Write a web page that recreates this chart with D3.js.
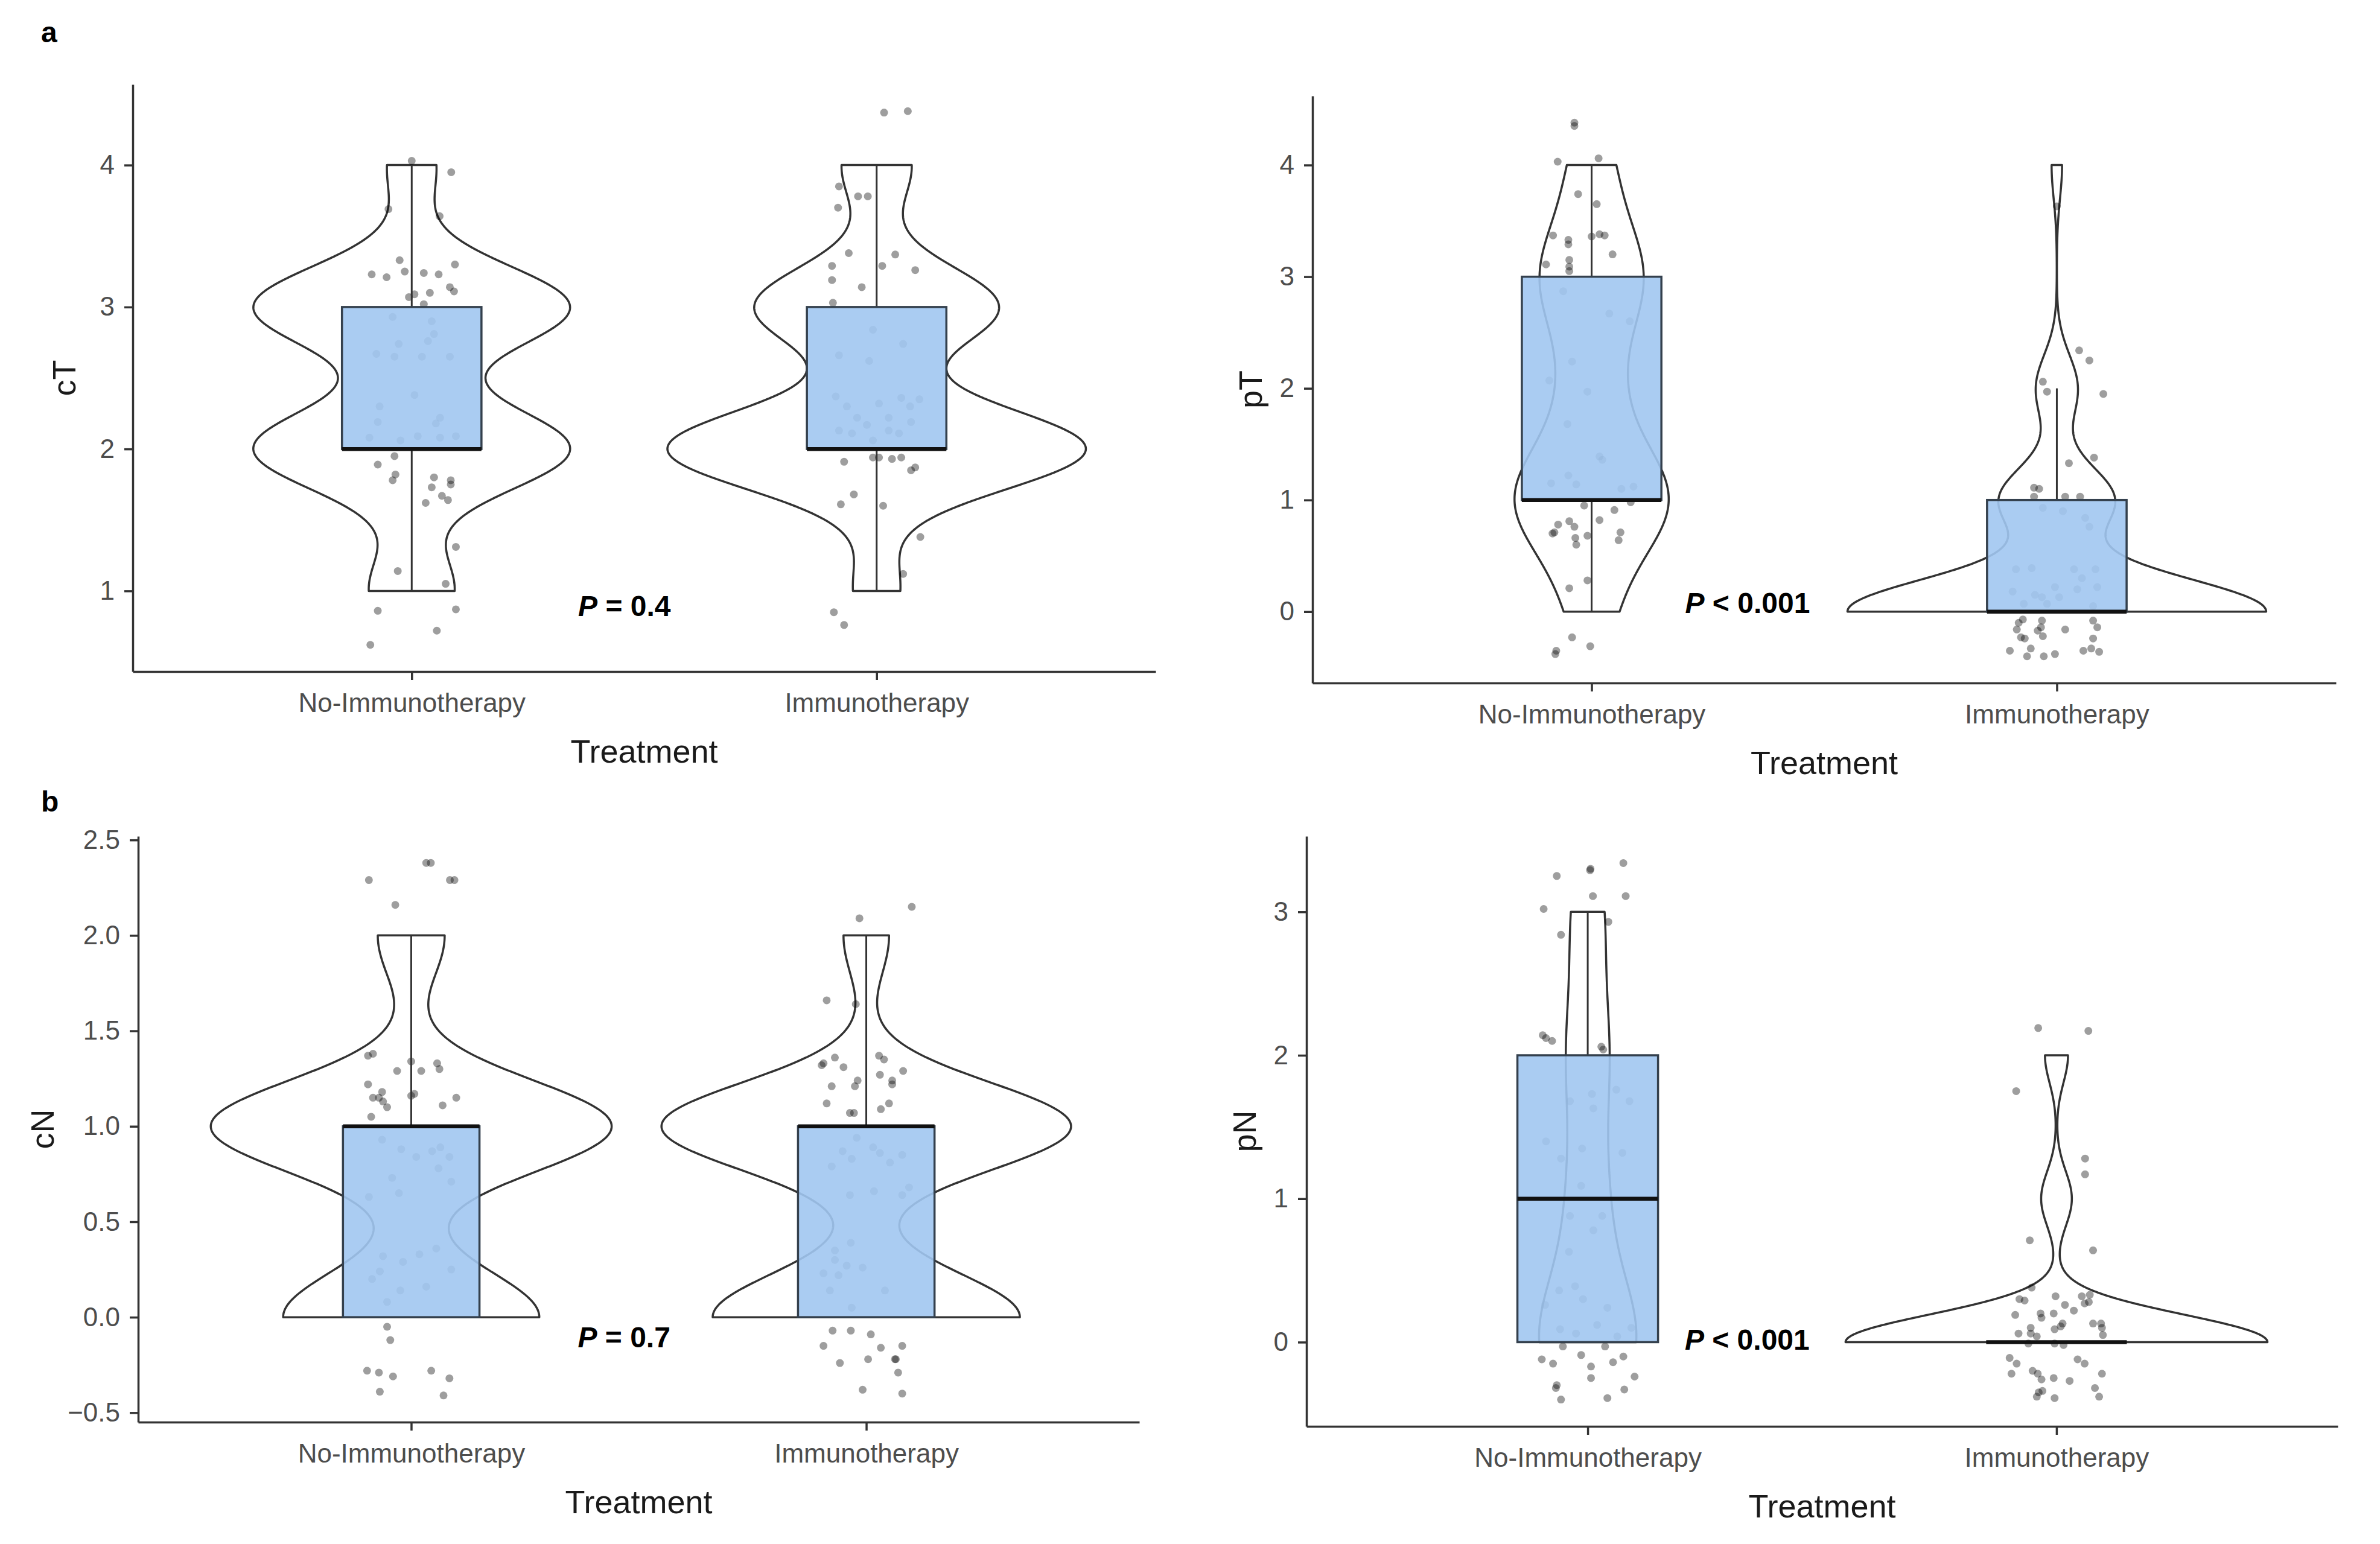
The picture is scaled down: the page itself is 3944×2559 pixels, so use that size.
<!DOCTYPE html>
<html><head><meta charset="utf-8">
<script src="https://cdn.jsdelivr.net/npm/d3@7"></script>
<style>body{margin:0;background:#fff}svg{display:block}</style>
</head><body>
<script>
// ---------------- DATA ----------------
const categories = ["No-Immunotherapy", "Immunotherapy"];

// observation counts per integer stage level (drive violins and boxplots)
const cT_levels = [1, 2, 3, 4];
const cT_counts_noImmuno = [7, 26, 26, 4];
const cT_counts_immuno   = [4, 36, 21, 6];
const pT_levels = [0, 1, 2, 3, 4];
const pT_counts_noImmuno = [6, 23, 7, 15, 6];
const pT_counts_immuno   = [40, 11, 4, 0, 1];
const cN_levels = [0, 1, 2];
const cN_counts_noImmuno = [23, 36, 6];
const cN_counts_immuno   = [27, 36, 4];
const pN_levels = [0, 1, 2, 3];
const pN_counts_noImmuno = [25, 9, 10, 8];
const pN_counts_immuno   = [55, 4, 3, 0];

// jittered points: [horizontal offset in category steps, jittered value]
const cT_points_noImmuno = [[0,4.03],[0.085,3.95],[-0.05,3.69],[0.06,3.64],
[-0.026,3.33],[-0.015,3.25],[-0.086,3.23],[-0.054,3.21],[0.026,3.24],[0.058,3.23],[0.093,3.30],[0.082,3.14],[0.091,3.11],[-0.006,3.07],[0.006,3.09],[0.039,3.10],[0.026,3.02],
[-0.041,2.93],[0.043,2.90],[0.048,2.81],[0.035,2.76],[-0.076,2.67],[-0.028,2.74],[-0.037,2.65],[0.022,2.65],[0.082,2.65],[0.006,2.38],[-0.069,2.30],[-0.073,2.19],[0.052,2.18],[0.061,2.22],[-0.091,2.08],[-0.024,2.06],[0.013,2.09],[0.061,2.08],[0.095,2.09],
[-0.037,1.95],[-0.073,1.89],[-0.035,1.82],[-0.041,1.78],[0.048,1.80],[0.043,1.73],[0.084,1.78],[0.084,1.75],[0.030,1.62],[0.065,1.67],[0.078,1.64],[0.095,1.31],[-0.030,1.14],[0.073,1.05],
[-0.073,0.86],[0.095,0.87],[0.054,0.72],[-0.089,0.62]];
const cT_points_immuno = [[0.016,4.37],[0.067,4.38],[-0.081,3.85],[-0.040,3.78],[-0.019,3.78],[-0.083,3.70],
[-0.060,3.38],[0.040,3.37],[-0.096,3.29],[-0.096,3.19],[0.012,3.29],[0.083,3.26],[-0.032,3.14],[-0.094,3.03],
[-0.008,2.84],[0.057,2.74],[-0.081,2.66],[-0.016,2.62],[-0.088,2.37],[-0.064,2.30],[-0.042,2.22],[0.005,2.32],[0.026,2.22],[0.053,2.36],[0.072,2.30],[0.092,2.35],[-0.081,2.13],[-0.053,2.11],[-0.021,2.17],[0.026,2.13],[0.048,2.11],[0.074,2.19],[-0.008,2.06],
[-0.008,1.94],[0.005,1.94],[0.033,1.93],[0.053,1.94],[0.074,1.85],[0.083,1.87],[-0.070,1.91],[-0.077,1.61],[-0.049,1.68],[0.014,1.60],[0.094,1.38],[0.057,1.12],[-0.092,0.85],[-0.070,0.76]];
const pT_points_noImmuno = [[-0.037,4.38],[-0.037,4.35],[-0.073,4.03],[0.015,4.06],[-0.029,3.74],[0.011,3.65],
[-0.083,3.37],[-0.050,3.33],[-0.050,3.29],[0.0,3.36],[0.017,3.38],[0.028,3.37],[0.045,3.20],[-0.098,3.11],[-0.048,3.15],[-0.048,3.09],[-0.048,3.05],[-0.061,2.87],[0.038,2.67],[0.082,2.60],
[-0.042,2.24],[-0.091,2.07],[-0.009,1.97],[-0.052,1.68],
[0.017,1.39],[0.023,1.36],[-0.087,1.15],[-0.050,1.22],[-0.033,1.14],[0.064,1.10],[0.090,1.12],[-0.016,0.95],[0.049,0.91],[0.084,0.98],[-0.080,0.71],[-0.072,0.78],[-0.048,0.81],[-0.037,0.76],[-0.084,0.70],[-0.035,0.66],[-0.033,0.60],[-0.009,0.68],[0.017,0.82],[0.062,0.71],[0.058,0.64],
[-0.048,0.21],[-0.009,0.28],[-0.076,-0.35],[-0.078,-0.38],[-0.042,-0.23],[-0.003,-0.31]];
const pT_points_immuno = [[0,3.63],
[0.048,2.34],[0.070,2.25],[-0.030,2.06],[-0.021,1.97],[0.100,1.95],
[0.026,1.33],[0.080,1.38],[-0.049,1.11],[-0.038,1.10],[0.018,1.03],[0.050,1.03],[-0.049,1.03],[-0.030,0.93],[0.013,0.90],[0.061,0.84],[0.070,0.76],
[-0.088,0.38],[-0.054,0.39],[0.037,0.38],[0.083,0.38],[0.054,0.30],[-0.095,0.18],[-0.047,0.15],[-0.032,0.13],[-0.004,0.22],[0.005,0.13],[0.044,0.20],[0.087,0.22],[-0.071,0.07],[-0.021,0.07],[0.078,0.05],
[-0.073,-0.07],[-0.032,-0.08],[0.078,-0.08],[-0.086,-0.16],[-0.041,-0.17],[-0.034,-0.14],[0.018,-0.16],[0.087,-0.14],[-0.077,-0.23],[-0.069,-0.24],[-0.030,-0.22],[0.078,-0.24],[-0.101,-0.35],[-0.064,-0.40],[-0.056,-0.33],[-0.028,-0.40],[-0.004,-0.38],[0.057,-0.35],[0.074,-0.33],[0.091,-0.36],[-0.082,-0.10]];
const cN_points_noImmuno = [[-0.093,2.29],[-0.035,2.16],[0.033,2.38],[0.043,2.38],[0.085,2.29],[0.095,2.29],
[-0.095,1.37],[-0.084,1.38],[-0.031,1.29],[0,1.34],[0.022,1.29],[0.057,1.33],[0.062,1.30],[-0.095,1.22],[-0.084,1.15],[-0.071,1.15],[-0.064,1.18],[-0.062,1.13],[-0.053,1.10],[-0.088,1.05],[0,1.16],[0.007,1.17],[0.069,1.11],[0.099,1.15],
[-0.064,0.93],[-0.022,0.88],[0.011,0.84],[0.046,0.87],[0.064,0.89],[0.084,0.84],[0.060,0.78],[0.088,0.71],[-0.042,0.73],[-0.027,0.65],[-0.093,0.63],
[0.055,0.36],[0.018,0.33],[-0.018,0.29],[-0.062,0.32],[-0.086,0.20],[-0.069,0.24],[0.088,0.25],[-0.024,0.14],[0.033,0.16],[-0.053,0.08],
[-0.053,-0.05],[-0.046,-0.12],[-0.097,-0.28],[-0.071,-0.29],[-0.040,-0.31],[-0.069,-0.39],[0.044,-0.28],[0.084,-0.32],[0.071,-0.41]];
const cN_points_immuno = [[-0.015,2.09],[0.100,2.15],[-0.087,1.66],[-0.023,1.64],
[-0.098,1.32],[-0.094,1.33],[-0.069,1.36],[-0.050,1.31],[-0.076,1.21],[-0.025,1.21],[-0.019,1.24],[-0.087,1.12],[-0.036,1.07],[-0.027,1.07],[0.028,1.37],[0.039,1.35],[0.030,1.27],[0.057,1.24],[0.057,1.22],[0.081,1.29],[0.032,1.09],[0.050,1.12],
[-0.021,0.94],[0.015,0.89],[0.030,0.86],[0.052,0.81],[0.079,0.85],[-0.052,0.87],[-0.032,0.83],[-0.076,0.79],[0.094,0.68],[0.079,0.64],[0.017,0.66],[-0.036,0.64],
[-0.034,0.39],[-0.069,0.35],[-0.069,0.30],[-0.043,0.27],[-0.008,0.26],[-0.094,0.23],[-0.061,0.22],[-0.080,0.14],[0.041,0.14],[-0.032,0.05],
[-0.074,-0.07],[-0.034,-0.07],[0.010,-0.09],[-0.094,-0.15],[0.032,-0.16],[0.079,-0.15],[-0.058,-0.24],[0.004,-0.22],[0.063,-0.22],[0.065,-0.22],[0.070,-0.29],[-0.008,-0.38],[0.079,-0.40]];
const pN_points_noImmuno = [[-0.066,3.25],[0.005,3.29],[0.006,3.30],[0.076,3.34],[-0.094,3.02],[0.011,3.11],[0.081,3.11],[-0.057,2.84],[0.044,2.93],
[-0.096,2.14],[-0.089,2.12],[-0.076,2.10],[0.029,2.06],[0.033,2.04],[-0.038,1.68],[0.009,1.73],[0.012,1.63],[0.061,1.76],[0.089,1.68],
[-0.089,1.40],[-0.057,1.28],[-0.012,1.35],[0.074,1.32],[-0.014,1.09],[-0.038,0.88],[0.012,0.78],[0.031,0.88],[-0.040,0.63],
[-0.061,0.36],[-0.027,0.39],[-0.010,0.30],[0.042,0.24],[-0.091,0.26],[-0.059,0.09],[-0.025,0.06],[0.020,0.12],[0.063,0.04],[0.093,0.10],
[-0.053,-0.03],[0.037,-0.03],[-0.098,-0.12],[-0.074,-0.15],[-0.014,-0.09],[0.007,-0.17],[0.007,-0.25],[0.054,-0.14],[0.076,-0.10],[0.100,-0.24],[-0.066,-0.30],[-0.068,-0.32],[-0.057,-0.40],[0.042,-0.39],[0.078,-0.33]];
const pN_points_immuno = [[-0.039,2.19],[0.068,2.17],[-0.086,1.75],[0.061,1.28],[0.061,1.17],[-0.057,0.71],[0.078,0.64],
[-0.079,0.30],[-0.068,0.29],[-0.053,0.38],[-0.002,0.32],[0.018,0.26],[0.037,0.22],[0.060,0.27],[0.069,0.28],[0.054,0.32],[0.071,0.33],[-0.088,0.19],[-0.032,0.17],[-0.034,0.20],[-0.006,0.20],[0.013,0.13],[0.009,0.11],[-0.004,0.09],[0.078,0.13],[0.095,0.13],[0.097,0.10],[-0.081,0.06],[-0.055,0.10],[-0.055,0.06],[-0.042,0.04],[0.099,0.05],
[-0.060,-0.01],[-0.004,-0.01],[0.015,-0.02],[-0.100,-0.11],[-0.085,-0.15],[-0.096,-0.22],[0.045,-0.12],[0.060,-0.15],[-0.051,-0.20],[-0.040,-0.22],[-0.032,-0.26],[-0.006,-0.25],[0.028,-0.27],[0.097,-0.22],[-0.038,-0.35],[-0.030,-0.34],[-0.042,-0.38],[-0.004,-0.39],[0.082,-0.32],[0.091,-0.38]];

// tick labels
const cT_ticks = [1, 2, 3, 4];
const pT_ticks = [0, 1, 2, 3, 4];
const cN_ticks = [-0.5, 0, 0.5, 1, 1.5, 2, 2.5];
const pN_ticks = [0, 1, 2, 3];

// titles and p-value annotations
const yTitles = ["cT", "pT", "cN", "pN"];
const xTitle = "Treatment";
const pOperators = ["=", "<", "=", "<"];
const pValues = ["0.4", "0.001", "0.7", "0.001"];
const pAnnotX = [1.358, 1.201, 1.366, 1.207];   // in category units (1 = first category)
const pAnnotY = [0.898, 0.081, -0.104, 0.02];    // in data units
const panelLetters = ["a", "b"];

// ---------------- LAYOUT ----------------
const W = 3944, H = 2559;
const layout = [
  {L: 220,  R: 1915, T: 140,  B: 1113, titleOff: 114, fmt: d3.format("d")},
  {L: 2175, R: 3871, T: 159,  B: 1132, titleOff: 103, fmt: d3.format("d")},
  {L: 229,  R: 1888, T: 1386, B: 2357, titleOff: 159, fmt: d3.format(".1f")},
  {L: 2165, R: 3874, T: 1386, B: 2364, titleOff: 103, fmt: d3.format("d")}
];
const panelsData = [
  {levels: cT_levels, counts: [cT_counts_noImmuno, cT_counts_immuno], points: [cT_points_noImmuno, cT_points_immuno], ticks: cT_ticks},
  {levels: pT_levels, counts: [pT_counts_noImmuno, pT_counts_immuno], points: [pT_points_noImmuno, pT_points_immuno], ticks: pT_ticks},
  {levels: cN_levels, counts: [cN_counts_noImmuno, cN_counts_immuno], points: [cN_points_noImmuno, cN_points_immuno], ticks: cN_ticks},
  {levels: pN_levels, counts: [pN_counts_noImmuno, pN_counts_immuno], points: [pN_points_noImmuno, pN_points_immuno], ticks: pN_ticks}
];

const FONT = "'Liberation Sans', Arial, Helvetica, sans-serif";
const svg = d3.select("body").append("svg").attr("width", W).attr("height", H)
  .style("font-family", FONT);
svg.append("rect").attr("width", W).attr("height", H).attr("fill", "#fff");

function expand(levels, counts) {
  const a = [];
  levels.forEach((l, i) => { for (let k = 0; k < counts[i]; k++) a.push(l); });
  return a.sort(d3.ascending);
}
function bwNrd0(s) {
  const hi = d3.deviation(s);
  const iqr = d3.quantileSorted(s, 0.75) - d3.quantileSorted(s, 0.25);
  let lo = Math.min(hi, iqr / 1.34);
  if (!lo) lo = hi || Math.abs(s[0]) || 1;
  return 0.9 * lo * Math.pow(s.length, -0.2);
}
function kde(s, h) {
  const lo = s[0], hi = s[s.length - 1], n = 512;
  const c = 1 / (s.length * h * Math.sqrt(2 * Math.PI));
  return d3.range(n).map(i => {
    const yv = lo + (hi - lo) * i / (n - 1);
    return [yv, c * d3.sum(s, xi => Math.exp(-0.5 * ((yv - xi) / h) ** 2))];
  });
}
function boxStats(s) {
  const q1 = d3.quantileSorted(s, 0.25), q2 = d3.quantileSorted(s, 0.5), q3 = d3.quantileSorted(s, 0.75);
  const iqr = q3 - q1;
  const upper = d3.max(s.filter(v => v <= q3 + 1.5 * iqr));
  const lower = d3.min(s.filter(v => v >= q1 - 1.5 * iqr));
  return {q1, q2, q3, upper, lower};
}

panelsData.forEach((pd, pi) => {
  const lay = layout[pi];
  const g = svg.append("g");
  const x = d3.scalePoint().domain(categories).range([lay.L, lay.R]).padding(0.6);
  const step = x.step();

  const groups = pd.counts.map((cnt, gi) => {
    const s = expand(pd.levels, cnt);
    const h = bwNrd0(s);
    return {cat: categories[gi], s, dens: kde(s, h), stats: boxStats(s), pts: pd.points[gi]};
  });
  const allY = [];
  groups.forEach(gr => { gr.pts.forEach(p => allY.push(p[1])); allY.push(gr.s[0], gr.s[gr.s.length - 1]); });
  const [mn, mx] = d3.extent(allY);
  const pad = (mx - mn) * 0.05;
  const y = d3.scaleLinear().domain([mn - pad, mx + pad]).range([lay.B, lay.T]);
  const maxD = d3.max(groups, gr => d3.max(gr.dens, d => d[1]));
  const wScale = d3.scaleLinear().domain([0, maxD]).range([0, 0.45 * step]);

  // violins
  groups.forEach(gr => {
    const cx = x(gr.cat);
    const left = gr.dens.map(d => [cx - wScale(d[1]), y(d[0])]);
    const right = gr.dens.slice().reverse().map(d => [cx + wScale(d[1]), y(d[0])]);
    g.append("path").attr("d", d3.line()(left.concat(right)) + "Z")
      .attr("fill", "none").attr("stroke", "#333").attr("stroke-width", 3.5)
      .attr("stroke-linejoin", "round");
  });
  // jitter points
  groups.forEach(gr => {
    const cx = x(gr.cat);
    g.append("g").selectAll("circle").data(gr.pts).join("circle")
      .attr("cx", d => cx + d[0] * step).attr("cy", d => y(d[1])).attr("r", 6.5)
      .attr("fill", "#000").attr("fill-opacity", 0.38);
  });
  // boxplots
  groups.forEach(gr => {
    const cx = x(gr.cat), st = gr.stats, hw = 0.15 * step;
    if (st.upper > st.q3) g.append("line").attr("x1", cx).attr("x2", cx).attr("y1", y(st.q3)).attr("y2", y(st.upper)).attr("stroke", "#333").attr("stroke-width", 3);
    if (st.lower < st.q1) g.append("line").attr("x1", cx).attr("x2", cx).attr("y1", y(st.q1)).attr("y2", y(st.lower)).attr("stroke", "#333").attr("stroke-width", 3);
    g.append("rect").attr("x", cx - hw).attr("width", 2 * hw)
      .attr("y", y(st.q3)).attr("height", Math.max(0, y(st.q1) - y(st.q3)))
      .attr("fill", "#a1c7f1").attr("fill-opacity", 0.9)
      .attr("stroke", "#34404d").attr("stroke-width", 3.5);
    g.append("line").attr("x1", cx - hw).attr("x2", cx + hw).attr("y1", y(st.q2)).attr("y2", y(st.q2))
      .attr("stroke", "#111").attr("stroke-width", 6.5);
  });

  // axes
  const yAxis = g.append("g").attr("transform", `translate(${lay.L},0)`)
    .call(d3.axisLeft(y).tickValues(pd.ticks).tickFormat(lay.fmt).tickSize(14).tickSizeOuter(0).tickPadding(16));
  const xAxis = g.append("g").attr("transform", `translate(0,${lay.B})`)
    .call(d3.axisBottom(x).tickSize(14).tickSizeOuter(0).tickPadding(22));
  [yAxis, xAxis].forEach(ax => {
    ax.select(".domain").attr("stroke", "#333").attr("stroke-width", 3.5);
    ax.selectAll(".tick line").attr("stroke", "#333").attr("stroke-width", 3.5);
    ax.selectAll(".tick text").attr("fill", "#4d4d4d").style("font-size", "44px").style("font-family", FONT);
  });

  // axis titles
  g.append("text").attr("x", (lay.L + lay.R) / 2).attr("y", lay.B + 151)
    .attr("text-anchor", "middle").attr("fill", "#1a1a1a").style("font-size", "54px").text(xTitle);
  g.append("text").attr("transform", `translate(${lay.L - lay.titleOff},${(lay.T + lay.B) / 2}) rotate(-90)`)
    .attr("text-anchor", "middle").attr("dy", "0.35em").attr("fill", "#1a1a1a").style("font-size", "54px").text(yTitles[pi]);

  // p-value annotation
  const ax = x(categories[0]) + (pAnnotX[pi] - 1) * step;
  const t = g.append("text").attr("x", ax).attr("y", y(pAnnotY[pi])).attr("dy", "0.36em")
    .style("font-size", "48px").style("font-weight", "bold").attr("fill", "#000");
  t.append("tspan").style("font-style", "italic").text("P");
  t.append("tspan").text(" " + pOperators[pi] + " " + pValues[pi]);
});

// panel letters
svg.append("text").attr("x", 68).attr("y", 70).style("font-size", "48px").style("font-weight", "bold").text(panelLetters[0]);
svg.append("text").attr("x", 68).attr("y", 1345).style("font-size", "48px").style("font-weight", "bold").text(panelLetters[1]);
</script>
</body></html>
